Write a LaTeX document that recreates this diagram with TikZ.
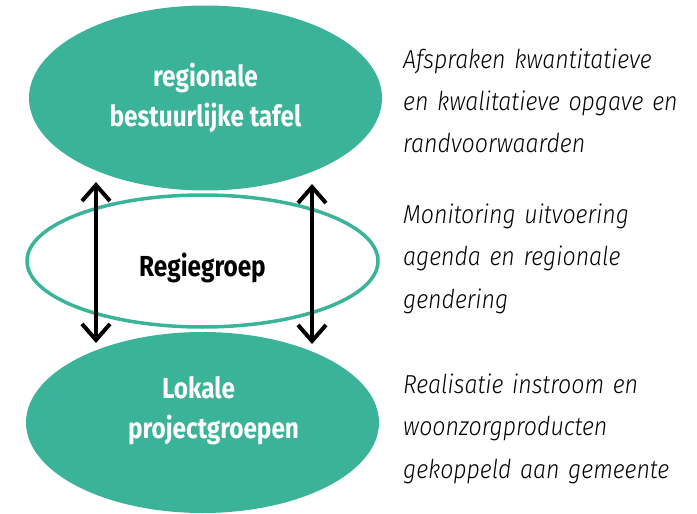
\documentclass[tikz,border=0pt]{standalone}
\usepackage{fontspec}
\setmainfont{Fira Sans}
\newfontfamily\ovalfont[FakeStretch=0.84]{Fira Sans Bold}
\newfontfamily\descfont[FakeStretch=0.89]{Fira Sans Light}
\usetikzlibrary{shapes.geometric,arrows.meta}
\definecolor{regiogroen}{RGB}{58,179,152}

\begin{document}
\begin{tikzpicture}[x=1pt,y=-1pt,
    ovaltext/.style={align=center,inner sep=0pt,font=\ovalfont\fontsize{29}{40}\selectfont},
    filledoval/.style={ellipse,fill=regiogroen,inner sep=0pt,minimum width=353pt,text=white},
    ringoval/.style={ellipse,draw=regiogroen,line width=3.5pt,inner sep=0pt,minimum width=351pt,minimum height=132pt},
    desc/.style={anchor=base west,inner sep=0pt,text width=295pt,align=left,font=\descfont\itshape\fontsize{26}{42.5}\selectfont},
    updown/.style={{Straight Barb[length=16pt,width=28pt]}-{Straight Barb[length=16pt,width=28pt]},line width=4pt}]
\useasboundingbox (0,0) rectangle (697,514);

% the three levels
\node[ringoval] (regie) at (202.5,261) {};
\node[filledoval,ovaltext,minimum height=185pt] (tafel) at (205.5,98) {regionale\\bestuurlijke tafel};
\node[filledoval,minimum height=181pt] (lokaal) at (202.5,422.5) {};
\node[ovaltext] (regietxt) at ([yshift=-7pt]regie.center) {Regiegroep};
\node[ovaltext,text=white] (lokaaltxt) at ([shift={(11,-12)}]lokaal.center) {Lokale\hspace*{30pt}\\projectgroepen};

% arrows between the levels
\coordinate (links boven) at (96,182);
\coordinate (links onder) at (96,343);
\coordinate (rechts boven) at (312,184);
\coordinate (rechts onder) at (312,344);
\draw[updown] (links boven) -- (links onder);
\draw[updown] (rechts boven) -- (rechts onder);

% descriptions
\node[desc] (afspraken) at (403,68) {Afspraken kwantitatieve\\en kwalitatieve opgave en\\randvoorwaarden};
\node[desc] (monitoring) at (403,223) {Monitoring uitvoering\\agenda en regionale\\gendering};
\node[desc] (realisatie) at (403,393) {Realisatie instroom en\\woonzorgproducten\\gekoppeld aan gemeente};
\end{tikzpicture}
\end{document}
